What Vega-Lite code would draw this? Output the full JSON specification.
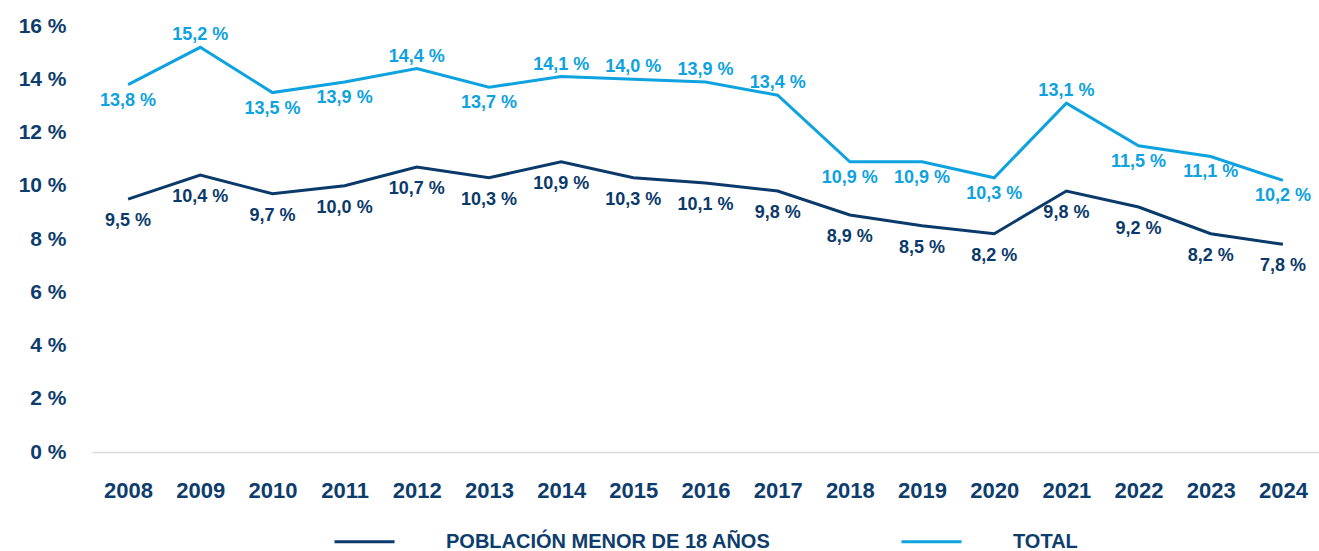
{
  "$schema": "https://vega.github.io/schema/vega-lite/v6.json",
  "width": 1227,
  "height": 426,
  "autosize": {"type": "none"},
  "padding": {"left": 92, "top": 26, "right": 0, "bottom": 99},
  "background": "white",
  "config": {
    "view": {"stroke": null},
    "font": "Liberation Sans",
    "text": {"font": "Liberation Sans"}
  },
  "data": {
    "values": [
      {"year": "2008", "serie": "TOTAL", "value": 13.8},
      {"year": "2009", "serie": "TOTAL", "value": 15.2},
      {"year": "2010", "serie": "TOTAL", "value": 13.5},
      {"year": "2011", "serie": "TOTAL", "value": 13.9},
      {"year": "2012", "serie": "TOTAL", "value": 14.4},
      {"year": "2013", "serie": "TOTAL", "value": 13.7},
      {"year": "2014", "serie": "TOTAL", "value": 14.1},
      {"year": "2015", "serie": "TOTAL", "value": 14.0},
      {"year": "2016", "serie": "TOTAL", "value": 13.9},
      {"year": "2017", "serie": "TOTAL", "value": 13.4},
      {"year": "2018", "serie": "TOTAL", "value": 10.9},
      {"year": "2019", "serie": "TOTAL", "value": 10.9},
      {"year": "2020", "serie": "TOTAL", "value": 10.3},
      {"year": "2021", "serie": "TOTAL", "value": 13.1},
      {"year": "2022", "serie": "TOTAL", "value": 11.5},
      {"year": "2023", "serie": "TOTAL", "value": 11.1},
      {"year": "2024", "serie": "TOTAL", "value": 10.2},
      {"year": "2008", "serie": "POBLACIÓN MENOR DE 18 AÑOS", "value": 9.5},
      {"year": "2009", "serie": "POBLACIÓN MENOR DE 18 AÑOS", "value": 10.4},
      {"year": "2010", "serie": "POBLACIÓN MENOR DE 18 AÑOS", "value": 9.7},
      {"year": "2011", "serie": "POBLACIÓN MENOR DE 18 AÑOS", "value": 10.0},
      {"year": "2012", "serie": "POBLACIÓN MENOR DE 18 AÑOS", "value": 10.7},
      {"year": "2013", "serie": "POBLACIÓN MENOR DE 18 AÑOS", "value": 10.3},
      {"year": "2014", "serie": "POBLACIÓN MENOR DE 18 AÑOS", "value": 10.9},
      {"year": "2015", "serie": "POBLACIÓN MENOR DE 18 AÑOS", "value": 10.3},
      {"year": "2016", "serie": "POBLACIÓN MENOR DE 18 AÑOS", "value": 10.1},
      {"year": "2017", "serie": "POBLACIÓN MENOR DE 18 AÑOS", "value": 9.8},
      {"year": "2018", "serie": "POBLACIÓN MENOR DE 18 AÑOS", "value": 8.9},
      {"year": "2019", "serie": "POBLACIÓN MENOR DE 18 AÑOS", "value": 8.5},
      {"year": "2020", "serie": "POBLACIÓN MENOR DE 18 AÑOS", "value": 8.2},
      {"year": "2021", "serie": "POBLACIÓN MENOR DE 18 AÑOS", "value": 9.8},
      {"year": "2022", "serie": "POBLACIÓN MENOR DE 18 AÑOS", "value": 9.2},
      {"year": "2023", "serie": "POBLACIÓN MENOR DE 18 AÑOS", "value": 8.2},
      {"year": "2024", "serie": "POBLACIÓN MENOR DE 18 AÑOS", "value": 7.8}
    ]
  },
  "transform": [
    {"calculate": "replace(format(datum.value, '.1f'), '.', ',') + ' %'", "as": "label"}
  ],
  "encoding": {
    "x": {
      "field": "year", "type": "ordinal",
      "scale": {"type": "point", "padding": 0.5},
      "axis": {
        "title": null, "labelAngle": 0, "ticks": false,
        "domainColor": "#d9d9d9", "domainWidth": 1.5,
        "labelFont": "Liberation Sans", "labelFontWeight": "bold", "labelFontSize": 22,
        "labelColor": "#0d3d6d", "labelPadding": 28
      }
    },
    "y": {
      "field": "value", "type": "quantitative",
      "scale": {"domain": [0, 16], "nice": false, "zero": true},
      "axis": {
        "title": null, "values": [0, 2, 4, 6, 8, 10, 12, 14, 16],
        "grid": false, "domain": false, "ticks": false,
        "labelExpr": "datum.value + ' %'",
        "labelFont": "Liberation Sans", "labelFontWeight": "bold", "labelFontSize": 21,
        "labelColor": "#0d3d6d", "labelPadding": 26
      }
    },
    "color": {
      "field": "serie", "type": "nominal",
      "scale": {"domain": ["POBLACIÓN MENOR DE 18 AÑOS", "TOTAL"], "range": ["#0b3a6a", "#0ea2df"]}
    }
  },
  "layer": [
    {
      "mark": {"type": "line", "strokeWidth": 3},
      "encoding": {
        "color": {
          "field": "serie", "type": "nominal",
          "scale": {"domain": ["POBLACIÓN MENOR DE 18 AÑOS", "TOTAL"], "range": ["#0b3a6a", "#0ea2df"]},
          "legend": {
            "title": null, "orient": "none", "direction": "horizontal",
            "legendX": 241, "legendY": 484,
            "symbolType": "stroke", "symbolStrokeWidth": 3, "symbolSize": 3600,
            "labelFont": "Liberation Sans", "labelFontWeight": "bold", "labelFontSize": 20,
            "labelColor": "#0d3d6d", "labelOffset": 50, "columnPadding": 124,
            "labelLimit": 500
          }
        }
      }
    },
    {
      "transform": [{"filter": "datum.serie == 'POBLACIÓN MENOR DE 18 AÑOS'"}],
      "mark": {"type": "text", "dy": 22, "fontSize": 18, "fontWeight": "bold", "font": "Liberation Sans"},
      "encoding": {"text": {"field": "label"}, "color": {"field": "serie", "type": "nominal", "legend": null}}
    },
    {
      "transform": [{"filter": "datum.serie == 'TOTAL' && indexof(['2009','2012','2014','2015','2016','2017','2021'], datum.year) < 0"}],
      "mark": {"type": "text", "dy": 16, "fontSize": 18, "fontWeight": "bold", "font": "Liberation Sans"},
      "encoding": {"text": {"field": "label"}, "color": {"field": "serie", "type": "nominal", "legend": null}}
    },
    {
      "transform": [{"filter": "datum.serie == 'TOTAL' && indexof(['2009','2012','2014','2015','2016','2017','2021'], datum.year) >= 0"}],
      "mark": {"type": "text", "dy": -12, "fontSize": 18, "fontWeight": "bold", "font": "Liberation Sans"},
      "encoding": {"text": {"field": "label"}, "color": {"field": "serie", "type": "nominal", "legend": null}}
    }
  ]
}
